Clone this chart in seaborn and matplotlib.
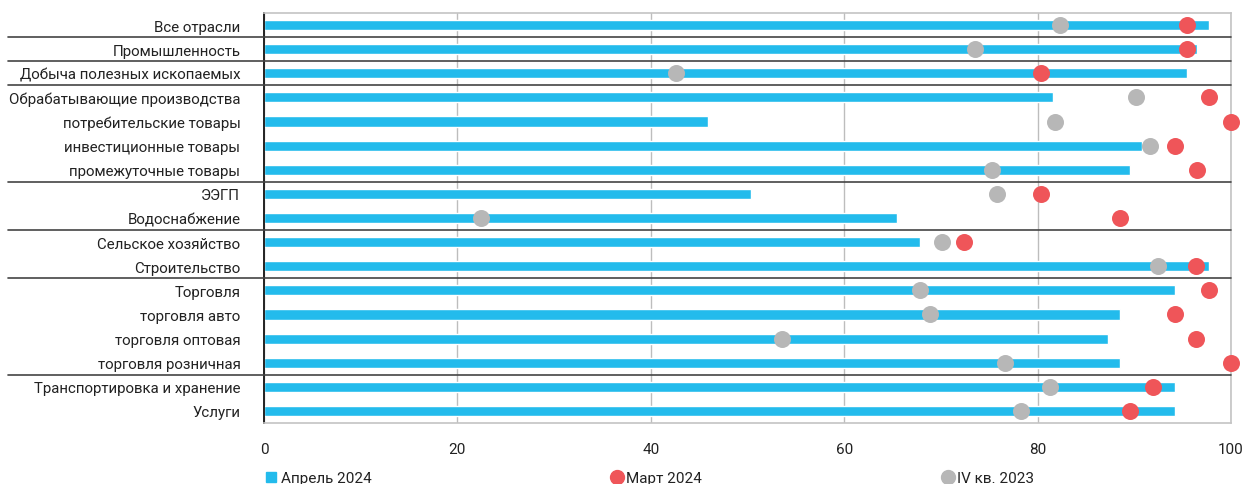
import numpy as np
import pandas as pd
import seaborn as sns
import matplotlib.pyplot as plt
from matplotlib.lines import Line2D
from matplotlib.ticker import FixedLocator

# --- dados ---
categorias = ['Все отрасли', 'Промышленность', 'Добыча полезных ископаемых',
              'Обрабатывающие производства', 'потребительские товары',
              'инвестиционные товары', 'промежуточные товары', 'ЭЭГП',
              'Водоснабжение', 'Сельское хозяйство', 'Строительство', 'Торговля',
              'торговля авто', 'торговля оптовая', 'торговля розничная',
              'Транспортировка и хранение', 'Услуги']
abr_2024 = [97.7, 96.5, 95.4, 81.6, 45.9, 90.8, 89.6, 50.4, 65.5, 67.8, 97.7,
            94.2, 88.5, 87.3, 88.5, 94.2, 94.2]
mar_2024 = [95.4, 95.4, 80.4, 97.7, 100.0, 94.2, 96.5, 80.4, 88.5, 72.4, 96.4,
            97.7, 94.2, 96.4, 100.0, 91.9, 89.6]
q4_2023 = [82.3, 73.5, 42.6, 90.2, 81.8, 91.6, 75.3, 75.8, 22.4, 70.1, 92.5,
           67.8, 68.9, 53.6, 76.6, 81.3, 78.3]
legenda = ['Апрель 2024', 'Март 2024', 'IV кв. 2023']
separadores = [0.5, 1.5, 2.5, 6.5, 8.5, 10.5, 14.5]

azul = '#23BBEC'
vermelho = '#EF5559'
cinza = '#B7B7B7'

df = pd.DataFrame({'cat': categorias, 'abr': abr_2024, 'mar': mar_2024, 'q4': q4_2023})

sns.set_style('white')
plt.rcParams['font.family'] = ['Roboto', 'DejaVu Sans']

fig = plt.figure(figsize=(12.46, 4.85), dpi=100)
ax = fig.add_axes([264 / 1246, 1 - 424 / 485, 967 / 1246, 410 / 485])

sns.barplot(data=df, x='abr', y='cat', orient='h', color=azul, width=0.42,
            saturation=1, ax=ax, zorder=2)
sns.scatterplot(data=df, x='q4', y='cat', color=cinza, s=150, linewidth=0,
                ax=ax, zorder=3, clip_on=False)
sns.scatterplot(data=df, x='mar', y='cat', color=vermelho, s=150, linewidth=0,
                ax=ax, zorder=4, clip_on=False)

ax.set_xlim(0, 100)
ax.set_ylim(len(categorias) - 0.5, -0.5)
ax.set_xticks([0, 20, 40, 60, 80, 100])
ax.set_xticklabels(['0', '20', '40', '60', '80', '100'])
ax.set_xlabel('')
ax.set_ylabel('')
ax.grid(axis='x', color='#BDBDBD', linewidth=1, zorder=0)
ax.grid(axis='y', visible=False)

ax.tick_params(axis='x', length=0, pad=14, labelsize=11, labelcolor='#222222')
ax.tick_params(axis='y', which='major', length=0, pad=17, labelsize=10.8,
               labelcolor='#222222')
ax.yaxis.set_minor_locator(FixedLocator(np.arange(-0.5, len(categorias), 1)))
ax.tick_params(axis='y', which='minor', length=5, width=1.2, color='#222222',
               direction='out')

for lado in ['top', 'right', 'bottom']:
    ax.spines[lado].set_color('#C4C4C4')
    ax.spines[lado].set_linewidth(1.2)
ax.spines['left'].set_color('#222222')
ax.spines['left'].set_linewidth(1.4)

# linhas separadoras de grupos
trans = ax.get_yaxis_transform()
for ysep in separadores:
    ax.plot([-0.265, 1], [ysep, ysep], transform=trans, color='#444444',
            linewidth=1.2, clip_on=False, zorder=5)

handles = [Line2D([], [], marker='s', linestyle='', color=azul, markersize=7),
           Line2D([], [], marker='o', linestyle='', color=vermelho, markersize=10),
           Line2D([], [], marker='o', linestyle='', color=cinza, markersize=10)]
fig.legend(handles, legenda, loc='center left', ncol=3, frameon=False,
           bbox_to_anchor=(250 / 1246, 1 - 479 / 485), fontsize=11,
           handletextpad=0.1, columnspacing=15.6, handlelength=1,
           labelcolor='#222222')

fig.savefig('out.png', dpi=100)
